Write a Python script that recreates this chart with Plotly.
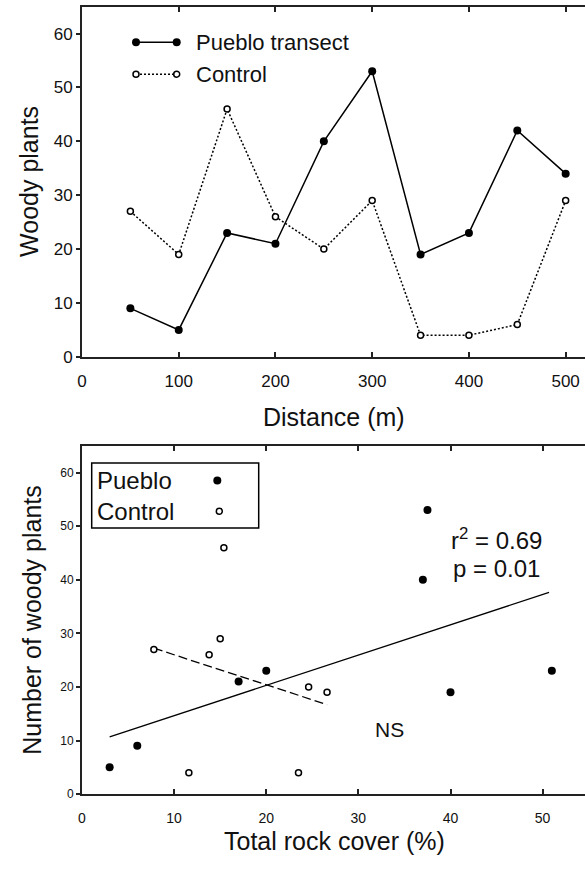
import plotly.graph_objects as go

# ---- data -------------------------------------------------------------
distance_m = [50, 100, 150, 200, 250, 300, 350, 400, 450, 500]
pueblo_woody = [9, 5, 23, 21, 40, 53, 19, 23, 42, 34]
control_woody = [27, 19, 46, 26, 20, 29, 4, 4, 6, 29]

pueblo_rock = [3, 6, 17, 20, 37, 37.5, 40, 51]
pueblo_rock_woody = [5, 9, 21, 23, 40, 53, 19, 23]
control_rock = [7.8, 11.6, 13.8, 15.0, 15.4, 23.5, 24.6, 26.6]
control_rock_woody = [27, 4, 26, 29, 46, 4, 20, 19]

# least-squares fits: (intercept, slope, x start, x end)
pueblo_fit = (9.0, 0.565, 3.0, 50.7)
control_fit = (31.6, -0.56, 7.8, 26.6)

top_xticks = [0, 100, 200, 300, 400, 500]
bottom_xticks = [0, 10, 20, 30, 40, 50]
yticks = [0, 10, 20, 30, 40, 50, 60]

# ---- page geometry ----------------------------------------------------
W, H = 585, 872
ML = 82
PW = W - ML

FONT = "Liberation Sans, Arial, sans-serif"
NARROW = "Liberation Sans Narrow, Arial Narrow, Liberation Sans, Arial, sans-serif"
INK = "#111111"
AXIS = "#222222"


def px(xp):
    return (xp - ML) / PW


def py(yp):
    return (H - yp) / H


def fit_xy(fit):
    a, b, x0, x1 = fit
    xs = [x0, x1]
    return xs, [a + b * x for x in xs]


fig = go.Figure()

# upper panel: counts along the transect
fig.add_trace(go.Scatter(
    x=distance_m, y=pueblo_woody, mode="lines+markers", xaxis="x", yaxis="y",
    line=dict(color="black", width=1.5),
    marker=dict(symbol="circle", size=8, color="black"),
    showlegend=False))
fig.add_trace(go.Scatter(
    x=distance_m, y=control_woody, mode="lines+markers", xaxis="x", yaxis="y",
    line=dict(color="black", width=1.5, dash="2px,2px"),
    marker=dict(symbol="circle", size=6, color="white",
                line=dict(color="black", width=1.5)),
    showlegend=False))

# lower panel: counts against rock cover
fx, fy = fit_xy(pueblo_fit)
fig.add_trace(go.Scatter(x=fx, y=fy, mode="lines", xaxis="x2", yaxis="y2",
                         line=dict(color="black", width=1.3), showlegend=False))
fx, fy = fit_xy(control_fit)
fig.add_trace(go.Scatter(x=fx, y=fy, mode="lines", xaxis="x2", yaxis="y2",
                         line=dict(color="black", width=1.3, dash="9px,4px"),
                         showlegend=False))
fig.add_trace(go.Scatter(
    x=pueblo_rock, y=pueblo_rock_woody, mode="markers", xaxis="x2", yaxis="y2",
    marker=dict(symbol="circle", size=8, color="black"), showlegend=False))
fig.add_trace(go.Scatter(
    x=control_rock, y=control_rock_woody, mode="markers", xaxis="x2", yaxis="y2",
    marker=dict(symbol="circle", size=6, color="white",
                line=dict(color="black", width=1.5)),
    showlegend=False))

axis_common = dict(showline=True, linecolor=AXIS, linewidth=2, showgrid=False,
                   zeroline=False, tickcolor=AXIS, tickwidth=1.5)

fig.update_layout(
    width=W, height=H,
    margin=dict(l=ML, r=0, t=0, b=0),
    paper_bgcolor="white", plot_bgcolor="white",
    font=dict(family=FONT, color=INK),
    xaxis=dict(axis_common, domain=[0, 1], anchor="y", range=[0, 520],
               tickvals=top_xticks, ticks="inside", ticklen=5, mirror="ticks",
               ticklabelstandoff=8,
               tickfont=dict(size=17, family=FONT, color=INK)),
    yaxis=dict(axis_common, domain=[py(361), py(6.7)], anchor="x", range=[0, 65],
               tickvals=yticks, ticks="outside", ticklen=4,
               tickfont=dict(size=17, family=FONT, color=INK)),
    xaxis2=dict(axis_common, domain=[0, 1], anchor="y2", range=[0, 54.6],
                tickvals=bottom_xticks, ticks="inside", ticklen=5, mirror="ticks",
                ticklabelstandoff=10,
                tickfont=dict(size=14, family=NARROW, color=INK)),
    yaxis2=dict(axis_common, domain=[py(803.3), py(451)], anchor="x2", range=[0, 65],
                tickvals=yticks, ticks="outside", ticklen=4,
                tickfont=dict(size=12, family=NARROW, color=INK)),
)

shapes = []
annotations = []


def dot(xp, yp, d, filled):
    shapes.append(dict(
        type="circle", xref="paper", yref="paper",
        xsizemode="pixel", ysizemode="pixel",
        xanchor=px(xp), yanchor=py(yp),
        x0=-d / 2, x1=d / 2, y0=-d / 2, y1=d / 2,
        fillcolor="black" if filled else "white",
        line=dict(color="black", width=0 if filled else 1.5)))


def label(text, xp, yp, size, xanchor="left", angle=0, family=FONT):
    annotations.append(dict(
        text=text, xref="paper", yref="paper", x=px(xp), y=py(yp),
        xanchor=xanchor, yanchor="middle", showarrow=False, textangle=angle,
        font=dict(size=size, family=family, color=INK)))


# upper legend
shapes.append(dict(type="line", xref="paper", yref="paper",
                   x0=px(136), x1=px(176.7), y0=py(42.7), y1=py(42.7),
                   line=dict(color="black", width=1.5)))
dot(136, 42.7, 8, True)
dot(176.7, 42.7, 8, True)
label("Pueblo transect", 194, 43, 22)
shapes.append(dict(type="line", xref="paper", yref="paper",
                   x0=px(136), x1=px(176.7), y0=py(75), y1=py(75),
                   line=dict(color="black", width=1.5, dash="2px,2px")))
dot(136, 75, 6, False)
dot(176.7, 75, 6, False)
label("Control", 194, 75, 22)

# lower legend
shapes.append(dict(type="rect", xref="paper", yref="paper",
                   x0=px(91.7), x1=px(258.7), y0=py(534), y1=py(468.3),
                   line=dict(color="black", width=1.5), fillcolor="white",
                   layer="below"))
label("Pueblo", 95, 486, 24)
dot(217.3, 486, 8, True)
label("Control", 95, 517.5, 24)
dot(219.3, 517.3, 6, False)

# statistics
label("r<sup>2</sup> = 0.69", 449, 545, 24)
label("p = 0.01", 451, 575, 24)
label("NS", 373, 738, 21)

# axis titles
label("Woody plants", 29, 184, 25, xanchor="center", angle=-90)
label("Distance (m)", 334, 422, 25, xanchor="center")
label("Number of woody plants", 32, 627, 25, xanchor="center", angle=-90)
label("Total rock cover (%)", 334, 851, 25, xanchor="center")

fig.update_layout(shapes=shapes, annotations=annotations)

fig.write_html("out.html")
